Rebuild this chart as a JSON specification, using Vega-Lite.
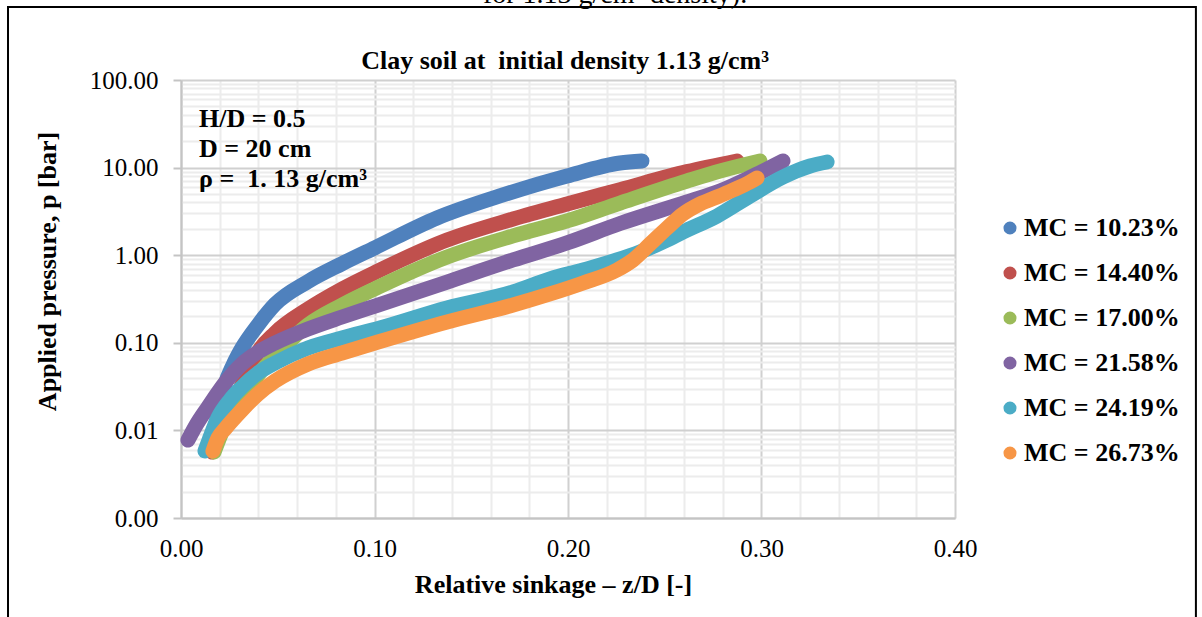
{
  "$schema": "https://vega.github.io/schema/vega-lite/v6.json",
  "width": 774,
  "height": 438,
  "autosize": {"type": "none"},
  "padding": {"left": 181, "top": 80, "right": 247, "bottom": 99},
  "background": "white",
  "config": {
    "font": "Liberation Serif",
    "view": {"stroke": null},
    "axis": {"labelFont": "Liberation Serif", "titleFont": "Liberation Serif"}
  },
  "datasets": {
    "curves": [
      {"series": "MC = 10.23%", "x": 0.0160, "p": 0.0078},
      {"series": "MC = 10.23%", "x": 0.0191, "p": 0.0150},
      {"series": "MC = 10.23%", "x": 0.0227, "p": 0.0330},
      {"series": "MC = 10.23%", "x": 0.0269, "p": 0.0558},
      {"series": "MC = 10.23%", "x": 0.0315, "p": 0.0872},
      {"series": "MC = 10.23%", "x": 0.0398, "p": 0.160},
      {"series": "MC = 10.23%", "x": 0.0486, "p": 0.275},
      {"series": "MC = 10.23%", "x": 0.0656, "p": 0.50},
      {"series": "MC = 10.23%", "x": 0.0832, "p": 0.80},
      {"series": "MC = 10.23%", "x": 0.1003, "p": 1.22},
      {"series": "MC = 10.23%", "x": 0.1323, "p": 2.66},
      {"series": "MC = 10.23%", "x": 0.1664, "p": 4.87},
      {"series": "MC = 10.23%", "x": 0.1995, "p": 8.02},
      {"series": "MC = 10.23%", "x": 0.2269, "p": 11.28},
      {"series": "MC = 10.23%", "x": 0.2382, "p": 11.89},
      {"series": "MC = 14.40%", "x": 0.0160, "p": 0.00567},
      {"series": "MC = 14.40%", "x": 0.0212, "p": 0.01065},
      {"series": "MC = 14.40%", "x": 0.0264, "p": 0.0185},
      {"series": "MC = 14.40%", "x": 0.0331, "p": 0.0396},
      {"series": "MC = 14.40%", "x": 0.0398, "p": 0.0785},
      {"series": "MC = 14.40%", "x": 0.0486, "p": 0.1294},
      {"series": "MC = 14.40%", "x": 0.0656, "p": 0.243},
      {"series": "MC = 14.40%", "x": 0.0832, "p": 0.411},
      {"series": "MC = 14.40%", "x": 0.1018, "p": 0.660},
      {"series": "MC = 14.40%", "x": 0.1375, "p": 1.49},
      {"series": "MC = 14.40%", "x": 0.1716, "p": 2.59},
      {"series": "MC = 14.40%", "x": 0.1995, "p": 3.85},
      {"series": "MC = 14.40%", "x": 0.2269, "p": 5.6},
      {"series": "MC = 14.40%", "x": 0.2615, "p": 9.0},
      {"series": "MC = 14.40%", "x": 0.2873, "p": 11.9},
      {"series": "MC = 17.00%", "x": 0.0171, "p": 0.00567},
      {"series": "MC = 17.00%", "x": 0.0227, "p": 0.0115},
      {"series": "MC = 17.00%", "x": 0.0315, "p": 0.0241},
      {"series": "MC = 17.00%", "x": 0.0398, "p": 0.0429},
      {"series": "MC = 17.00%", "x": 0.0486, "p": 0.0700},
      {"series": "MC = 17.00%", "x": 0.0656, "p": 0.160},
      {"series": "MC = 17.00%", "x": 0.0832, "p": 0.270},
      {"series": "MC = 17.00%", "x": 0.1018, "p": 0.430},
      {"series": "MC = 17.00%", "x": 0.1375, "p": 0.954},
      {"series": "MC = 17.00%", "x": 0.1716, "p": 1.66},
      {"series": "MC = 17.00%", "x": 0.1995, "p": 2.46},
      {"series": "MC = 17.00%", "x": 0.2269, "p": 3.94},
      {"series": "MC = 17.00%", "x": 0.2615, "p": 7.03},
      {"series": "MC = 17.00%", "x": 0.2786, "p": 9.15},
      {"series": "MC = 17.00%", "x": 0.2992, "p": 11.9},
      {"series": "MC = 21.58%", "x": 0.0036, "p": 0.00777},
      {"series": "MC = 21.58%", "x": 0.0078, "p": 0.0115},
      {"series": "MC = 21.58%", "x": 0.0140, "p": 0.0185},
      {"series": "MC = 21.58%", "x": 0.0227, "p": 0.0348},
      {"series": "MC = 21.58%", "x": 0.0315, "p": 0.0573},
      {"series": "MC = 21.58%", "x": 0.0398, "p": 0.0785},
      {"series": "MC = 21.58%", "x": 0.0486, "p": 0.0995},
      {"series": "MC = 21.58%", "x": 0.0656, "p": 0.1437},
      {"series": "MC = 21.58%", "x": 0.0832, "p": 0.197},
      {"series": "MC = 21.58%", "x": 0.1018, "p": 0.270},
      {"series": "MC = 21.58%", "x": 0.1375, "p": 0.494},
      {"series": "MC = 21.58%", "x": 0.1716, "p": 0.882},
      {"series": "MC = 21.58%", "x": 0.1995, "p": 1.38},
      {"series": "MC = 21.58%", "x": 0.2269, "p": 2.30},
      {"series": "MC = 21.58%", "x": 0.2615, "p": 4.05},
      {"series": "MC = 21.58%", "x": 0.2786, "p": 5.41},
      {"series": "MC = 21.58%", "x": 0.2956, "p": 8.02},
      {"series": "MC = 21.58%", "x": 0.3111, "p": 11.9},
      {"series": "MC = 24.19%", "x": 0.0124, "p": 0.00582},
      {"series": "MC = 24.19%", "x": 0.0145, "p": 0.00777},
      {"series": "MC = 24.19%", "x": 0.0191, "p": 0.0139},
      {"series": "MC = 24.19%", "x": 0.0253, "p": 0.0222},
      {"series": "MC = 24.19%", "x": 0.0315, "p": 0.0313},
      {"series": "MC = 24.19%", "x": 0.0398, "p": 0.0452},
      {"series": "MC = 24.19%", "x": 0.0486, "p": 0.0588},
      {"series": "MC = 24.19%", "x": 0.0656, "p": 0.0872},
      {"series": "MC = 24.19%", "x": 0.0832, "p": 0.1134},
      {"series": "MC = 24.19%", "x": 0.1028, "p": 0.1476},
      {"series": "MC = 24.19%", "x": 0.1375, "p": 0.250},
      {"series": "MC = 24.19%", "x": 0.1716, "p": 0.380},
      {"series": "MC = 24.19%", "x": 0.1907, "p": 0.535},
      {"series": "MC = 24.19%", "x": 0.2078, "p": 0.678},
      {"series": "MC = 24.19%", "x": 0.2253, "p": 0.882},
      {"series": "MC = 24.19%", "x": 0.2372, "p": 1.09},
      {"series": "MC = 24.19%", "x": 0.2512, "p": 1.49},
      {"series": "MC = 24.19%", "x": 0.2594, "p": 1.84},
      {"series": "MC = 24.19%", "x": 0.2770, "p": 2.80},
      {"series": "MC = 24.19%", "x": 0.2941, "p": 4.74},
      {"series": "MC = 24.19%", "x": 0.3111, "p": 7.81},
      {"series": "MC = 24.19%", "x": 0.3251, "p": 10.43},
      {"series": "MC = 24.19%", "x": 0.3339, "p": 11.58},
      {"series": "MC = 26.73%", "x": 0.0165, "p": 0.0058},
      {"series": "MC = 26.73%", "x": 0.0191, "p": 0.00819},
      {"series": "MC = 26.73%", "x": 0.0227, "p": 0.01037},
      {"series": "MC = 26.73%", "x": 0.0315, "p": 0.0171},
      {"series": "MC = 26.73%", "x": 0.0398, "p": 0.0260},
      {"series": "MC = 26.73%", "x": 0.0486, "p": 0.0366},
      {"series": "MC = 26.73%", "x": 0.0656, "p": 0.0573},
      {"series": "MC = 26.73%", "x": 0.0832, "p": 0.0765},
      {"series": "MC = 26.73%", "x": 0.1018, "p": 0.1021},
      {"series": "MC = 26.73%", "x": 0.1375, "p": 0.173},
      {"series": "MC = 26.73%", "x": 0.1716, "p": 0.270},
      {"series": "MC = 26.73%", "x": 0.1907, "p": 0.361},
      {"series": "MC = 26.73%", "x": 0.2078, "p": 0.482},
      {"series": "MC = 26.73%", "x": 0.2253, "p": 0.678},
      {"series": "MC = 26.73%", "x": 0.2336, "p": 0.882},
      {"series": "MC = 26.73%", "x": 0.2424, "p": 1.34},
      {"series": "MC = 26.73%", "x": 0.2512, "p": 2.04},
      {"series": "MC = 26.73%", "x": 0.2594, "p": 2.95},
      {"series": "MC = 26.73%", "x": 0.2682, "p": 3.84},
      {"series": "MC = 26.73%", "x": 0.2770, "p": 4.62},
      {"series": "MC = 26.73%", "x": 0.2853, "p": 5.55},
      {"series": "MC = 26.73%", "x": 0.2941, "p": 6.85},
      {"series": "MC = 26.73%", "x": 0.2977, "p": 7.61}
    ]
  },
  "layer": [
    {
      "data": {"name": "curves"},
      "mark": {"type": "line", "strokeWidth": 15, "strokeCap": "round", "strokeJoin": "round", "interpolate": "monotone"},
      "encoding": {
        "x": {
          "field": "x", "type": "quantitative",
          "scale": {"domain": [0, 0.4], "nice": false, "zero": false},
          "axis": {
            "title": "Relative sinkage – z/D [-]",
            "titleFontSize": 26, "titleFontWeight": "bold", "titleColor": "black", "titlePadding": 10, "titleX": 372,
            "values": [0, 0.02, 0.04, 0.06, 0.08, 0.1, 0.12, 0.14, 0.16, 0.18, 0.2, 0.22, 0.24, 0.26, 0.28, 0.3, 0.32, 0.34, 0.36, 0.38, 0.4],
            "labelExpr": "abs(datum.value*10 - round(datum.value*10)) < 0.000001 ? format(datum.value, '.2f') : ''",
            "labelFontSize": 25, "labelColor": "black", "labelPadding": 18, "labelFlush": false, "labelOverlap": false,
            "ticks": false, "tickSize": 0,
            "domainColor": "#c4c4c4", "domainWidth": 2,
            "grid": true,
            "gridColor": {"condition": {"test": "abs(datum.value*10 - round(datum.value*10)) < 0.000001", "value": "#d0d0d0"}, "value": "#ececec"},
            "gridWidth": 2
          }
        },
        "y": {
          "field": "p", "type": "quantitative",
          "scale": {"type": "log", "domain": [0.001, 100], "nice": false},
          "axis": {
            "title": "Applied pressure, p [bar]",
            "titleFontSize": 26, "titleFontWeight": "bold", "titleColor": "black", "titlePadding": 29, "titleY": 191,
            "values": [0.001, 0.002, 0.003, 0.004, 0.005, 0.006, 0.007, 0.008, 0.009, 0.01, 0.02, 0.03, 0.04, 0.05, 0.06, 0.07, 0.08, 0.09, 0.1, 0.2, 0.3, 0.4, 0.5, 0.6, 0.7, 0.8, 0.9, 1, 2, 3, 4, 5, 6, 7, 8, 9, 10, 20, 30, 40, 50, 60, 70, 80, 90, 100],
            "labelExpr": "abs(log(datum.value)/LN10 - round(log(datum.value)/LN10)) < 0.000001 ? format(datum.value, '.2f') : ''",
            "labelFontSize": 25, "labelColor": "black", "labelPadding": 15, "labelFlush": false, "labelOverlap": false,
            "tickSize": 8, "tickWidth": 2, "tickColor": "#c4c4c4",
            "tickOpacity": {"condition": {"test": "abs(log(datum.value)/LN10 - round(log(datum.value)/LN10)) < 0.000001", "value": 1}, "value": 0},
            "domainColor": "#c4c4c4", "domainWidth": 2,
            "grid": true,
            "gridColor": {"condition": {"test": "abs(log(datum.value)/LN10 - round(log(datum.value)/LN10)) < 0.000001", "value": "#d0d0d0"}, "value": "#ececec"},
            "gridWidth": 2
          }
        },
        "color": {
          "field": "series", "type": "nominal",
          "scale": {
            "domain": ["MC = 10.23%", "MC = 14.40%", "MC = 17.00%", "MC = 21.58%", "MC = 24.19%", "MC = 26.73%"],
            "range": ["#4F81BD", "#C0504D", "#9BBB59", "#8064A2", "#4BACC6", "#F79646"]
          },
          "legend": {
            "title": null,
            "orient": "none",
            "legendX": 816,
            "legendY": 135,
            "padding": 0,
            "symbolType": "circle",
            "symbolSize": 170,
            "symbolStrokeWidth": 0,
            "labelFont": "Liberation Serif",
            "labelFontSize": 26,
            "labelFontWeight": "bold",
            "labelColor": "black",
            "labelOffset": 1,
            "labelLimit": 400,
            "rowPadding": 19,
            "encode": {"symbols": {"update": {"fill": {"scale": "color", "field": "value"}, "strokeWidth": {"value": 0}, "opacity": {"value": 1}}}}
          }
        }
      }
    },
    {
      "data": {"values": [{}]},
      "mark": {"type": "text", "align": "left", "baseline": "alphabetic", "font": "Liberation Serif", "fontSize": 26, "fontWeight": "bold", "color": "black", "lineHeight": 30,
        "text": ["H/D = 0.5", "D = 20 cm", "ρ = \u00a01. 13 g/cm³"]},
      "encoding": {
        "x": {
          "datum": 0.0093, "type": "quantitative",
          "scale": {"domain": [0, 0.4], "nice": false, "zero": false},
          "axis": {
            "title": "Relative sinkage – z/D [-]",
            "titleFontSize": 26, "titleFontWeight": "bold", "titleColor": "black", "titlePadding": 10, "titleX": 372,
            "values": [0, 0.02, 0.04, 0.06, 0.08, 0.1, 0.12, 0.14, 0.16, 0.18, 0.2, 0.22, 0.24, 0.26, 0.28, 0.3, 0.32, 0.34, 0.36, 0.38, 0.4],
            "labelExpr": "abs(datum.value*10 - round(datum.value*10)) < 0.000001 ? format(datum.value, '.2f') : ''",
            "labelFontSize": 25, "labelColor": "black", "labelPadding": 18, "labelFlush": false, "labelOverlap": false,
            "ticks": false, "tickSize": 0,
            "domainColor": "#c4c4c4", "domainWidth": 2,
            "grid": true,
            "gridColor": {"condition": {"test": "abs(datum.value*10 - round(datum.value*10)) < 0.000001", "value": "#d0d0d0"}, "value": "#ececec"},
            "gridWidth": 2
          }
        },
        "y": {
          "datum": 29.1, "type": "quantitative",
          "scale": {"type": "log", "domain": [0.001, 100], "nice": false},
          "axis": {
            "title": "Applied pressure, p [bar]",
            "titleFontSize": 26, "titleFontWeight": "bold", "titleColor": "black", "titlePadding": 29, "titleY": 191,
            "values": [0.001, 0.002, 0.003, 0.004, 0.005, 0.006, 0.007, 0.008, 0.009, 0.01, 0.02, 0.03, 0.04, 0.05, 0.06, 0.07, 0.08, 0.09, 0.1, 0.2, 0.3, 0.4, 0.5, 0.6, 0.7, 0.8, 0.9, 1, 2, 3, 4, 5, 6, 7, 8, 9, 10, 20, 30, 40, 50, 60, 70, 80, 90, 100],
            "labelExpr": "abs(log(datum.value)/LN10 - round(log(datum.value)/LN10)) < 0.000001 ? format(datum.value, '.2f') : ''",
            "labelFontSize": 25, "labelColor": "black", "labelPadding": 15, "labelFlush": false, "labelOverlap": false,
            "tickSize": 8, "tickWidth": 2, "tickColor": "#c4c4c4",
            "tickOpacity": {"condition": {"test": "abs(log(datum.value)/LN10 - round(log(datum.value)/LN10)) < 0.000001", "value": 1}, "value": 0},
            "domainColor": "#c4c4c4", "domainWidth": 2,
            "grid": true,
            "gridColor": {"condition": {"test": "abs(log(datum.value)/LN10 - round(log(datum.value)/LN10)) < 0.000001", "value": "#d0d0d0"}, "value": "#ececec"},
            "gridWidth": 2
          }
        }
      }
    },
    {
      "data": {"values": [{}]},
      "mark": {"type": "text", "align": "center", "baseline": "alphabetic", "font": "Liberation Serif", "fontSize": 26, "fontWeight": "bold", "color": "black",
        "text": "Clay soil at \u00a0initial density 1.13 g/cm³"},
      "encoding": {
        "x": {
          "datum": 0.1985, "type": "quantitative",
          "scale": {"domain": [0, 0.4], "nice": false, "zero": false},
          "axis": {
            "title": "Relative sinkage – z/D [-]",
            "titleFontSize": 26, "titleFontWeight": "bold", "titleColor": "black", "titlePadding": 10, "titleX": 372,
            "values": [0, 0.02, 0.04, 0.06, 0.08, 0.1, 0.12, 0.14, 0.16, 0.18, 0.2, 0.22, 0.24, 0.26, 0.28, 0.3, 0.32, 0.34, 0.36, 0.38, 0.4],
            "labelExpr": "abs(datum.value*10 - round(datum.value*10)) < 0.000001 ? format(datum.value, '.2f') : ''",
            "labelFontSize": 25, "labelColor": "black", "labelPadding": 18, "labelFlush": false, "labelOverlap": false,
            "ticks": false, "tickSize": 0,
            "domainColor": "#c4c4c4", "domainWidth": 2,
            "grid": true,
            "gridColor": {"condition": {"test": "abs(datum.value*10 - round(datum.value*10)) < 0.000001", "value": "#d0d0d0"}, "value": "#ececec"},
            "gridWidth": 2
          }
        },
        "y": {
          "datum": 133.6, "type": "quantitative",
          "scale": {"type": "log", "domain": [0.001, 100], "nice": false},
          "axis": {
            "title": "Applied pressure, p [bar]",
            "titleFontSize": 26, "titleFontWeight": "bold", "titleColor": "black", "titlePadding": 29, "titleY": 191,
            "values": [0.001, 0.002, 0.003, 0.004, 0.005, 0.006, 0.007, 0.008, 0.009, 0.01, 0.02, 0.03, 0.04, 0.05, 0.06, 0.07, 0.08, 0.09, 0.1, 0.2, 0.3, 0.4, 0.5, 0.6, 0.7, 0.8, 0.9, 1, 2, 3, 4, 5, 6, 7, 8, 9, 10, 20, 30, 40, 50, 60, 70, 80, 90, 100],
            "labelExpr": "abs(log(datum.value)/LN10 - round(log(datum.value)/LN10)) < 0.000001 ? format(datum.value, '.2f') : ''",
            "labelFontSize": 25, "labelColor": "black", "labelPadding": 15, "labelFlush": false, "labelOverlap": false,
            "tickSize": 8, "tickWidth": 2, "tickColor": "#c4c4c4",
            "tickOpacity": {"condition": {"test": "abs(log(datum.value)/LN10 - round(log(datum.value)/LN10)) < 0.000001", "value": 1}, "value": 0},
            "domainColor": "#c4c4c4", "domainWidth": 2,
            "grid": true,
            "gridColor": {"condition": {"test": "abs(log(datum.value)/LN10 - round(log(datum.value)/LN10)) < 0.000001", "value": "#d0d0d0"}, "value": "#ececec"},
            "gridWidth": 2
          }
        }
      }
    },
    {
      "data": {"values": [{}]},
      "mark": {"type": "text", "align": "center", "baseline": "alphabetic", "font": "Liberation Serif", "fontSize": 28, "color": "black",
        "text": "for 1.13 g/cm³ density)."},
      "encoding": {
        "x": {
          "datum": 0.2243, "type": "quantitative",
          "scale": {"domain": [0, 0.4], "nice": false, "zero": false},
          "axis": {
            "title": "Relative sinkage – z/D [-]",
            "titleFontSize": 26, "titleFontWeight": "bold", "titleColor": "black", "titlePadding": 10, "titleX": 372,
            "values": [0, 0.02, 0.04, 0.06, 0.08, 0.1, 0.12, 0.14, 0.16, 0.18, 0.2, 0.22, 0.24, 0.26, 0.28, 0.3, 0.32, 0.34, 0.36, 0.38, 0.4],
            "labelExpr": "abs(datum.value*10 - round(datum.value*10)) < 0.000001 ? format(datum.value, '.2f') : ''",
            "labelFontSize": 25, "labelColor": "black", "labelPadding": 18, "labelFlush": false, "labelOverlap": false,
            "ticks": false, "tickSize": 0,
            "domainColor": "#c4c4c4", "domainWidth": 2,
            "grid": true,
            "gridColor": {"condition": {"test": "abs(datum.value*10 - round(datum.value*10)) < 0.000001", "value": "#d0d0d0"}, "value": "#ececec"},
            "gridWidth": 2
          }
        },
        "y": {
          "datum": 757, "type": "quantitative",
          "scale": {"type": "log", "domain": [0.001, 100], "nice": false},
          "axis": {
            "title": "Applied pressure, p [bar]",
            "titleFontSize": 26, "titleFontWeight": "bold", "titleColor": "black", "titlePadding": 29, "titleY": 191,
            "values": [0.001, 0.002, 0.003, 0.004, 0.005, 0.006, 0.007, 0.008, 0.009, 0.01, 0.02, 0.03, 0.04, 0.05, 0.06, 0.07, 0.08, 0.09, 0.1, 0.2, 0.3, 0.4, 0.5, 0.6, 0.7, 0.8, 0.9, 1, 2, 3, 4, 5, 6, 7, 8, 9, 10, 20, 30, 40, 50, 60, 70, 80, 90, 100],
            "labelExpr": "abs(log(datum.value)/LN10 - round(log(datum.value)/LN10)) < 0.000001 ? format(datum.value, '.2f') : ''",
            "labelFontSize": 25, "labelColor": "black", "labelPadding": 15, "labelFlush": false, "labelOverlap": false,
            "tickSize": 8, "tickWidth": 2, "tickColor": "#c4c4c4",
            "tickOpacity": {"condition": {"test": "abs(log(datum.value)/LN10 - round(log(datum.value)/LN10)) < 0.000001", "value": 1}, "value": 0},
            "domainColor": "#c4c4c4", "domainWidth": 2,
            "grid": true,
            "gridColor": {"condition": {"test": "abs(log(datum.value)/LN10 - round(log(datum.value)/LN10)) < 0.000001", "value": "#d0d0d0"}, "value": "#ececec"},
            "gridWidth": 2
          }
        }
      }
    },
    {
      "data": {"values": [{}]},
      "mark": {"type": "rect", "fill": "transparent", "stroke": "black", "strokeWidth": 2},
      "encoding": {
        "x": {
          "datum": -0.0894, "type": "quantitative",
          "scale": {"domain": [0, 0.4], "nice": false, "zero": false},
          "axis": {
            "title": "Relative sinkage – z/D [-]",
            "titleFontSize": 26, "titleFontWeight": "bold", "titleColor": "black", "titlePadding": 10, "titleX": 372,
            "values": [0, 0.02, 0.04, 0.06, 0.08, 0.1, 0.12, 0.14, 0.16, 0.18, 0.2, 0.22, 0.24, 0.26, 0.28, 0.3, 0.32, 0.34, 0.36, 0.38, 0.4],
            "labelExpr": "abs(datum.value*10 - round(datum.value*10)) < 0.000001 ? format(datum.value, '.2f') : ''",
            "labelFontSize": 25, "labelColor": "black", "labelPadding": 18, "labelFlush": false, "labelOverlap": false,
            "ticks": false, "tickSize": 0,
            "domainColor": "#c4c4c4", "domainWidth": 2,
            "grid": true,
            "gridColor": {"condition": {"test": "abs(datum.value*10 - round(datum.value*10)) < 0.000001", "value": "#d0d0d0"}, "value": "#ececec"},
            "gridWidth": 2
          }
        },
        "x2": {"datum": 0.5245},
        "y": {
          "datum": 681, "type": "quantitative",
          "scale": {"type": "log", "domain": [0.001, 100], "nice": false},
          "axis": {
            "title": "Applied pressure, p [bar]",
            "titleFontSize": 26, "titleFontWeight": "bold", "titleColor": "black", "titlePadding": 29, "titleY": 191,
            "values": [0.001, 0.002, 0.003, 0.004, 0.005, 0.006, 0.007, 0.008, 0.009, 0.01, 0.02, 0.03, 0.04, 0.05, 0.06, 0.07, 0.08, 0.09, 0.1, 0.2, 0.3, 0.4, 0.5, 0.6, 0.7, 0.8, 0.9, 1, 2, 3, 4, 5, 6, 7, 8, 9, 10, 20, 30, 40, 50, 60, 70, 80, 90, 100],
            "labelExpr": "abs(log(datum.value)/LN10 - round(log(datum.value)/LN10)) < 0.000001 ? format(datum.value, '.2f') : ''",
            "labelFontSize": 25, "labelColor": "black", "labelPadding": 15, "labelFlush": false, "labelOverlap": false,
            "tickSize": 8, "tickWidth": 2, "tickColor": "#c4c4c4",
            "tickOpacity": {"condition": {"test": "abs(log(datum.value)/LN10 - round(log(datum.value)/LN10)) < 0.000001", "value": 1}, "value": 0},
            "domainColor": "#c4c4c4", "domainWidth": 2,
            "grid": true,
            "gridColor": {"condition": {"test": "abs(log(datum.value)/LN10 - round(log(datum.value)/LN10)) < 0.000001", "value": "#d0d0d0"}, "value": "#ececec"},
            "gridWidth": 2
          }
        },
        "y2": {"datum": 0.00004}
      }
    }
  ]
}
